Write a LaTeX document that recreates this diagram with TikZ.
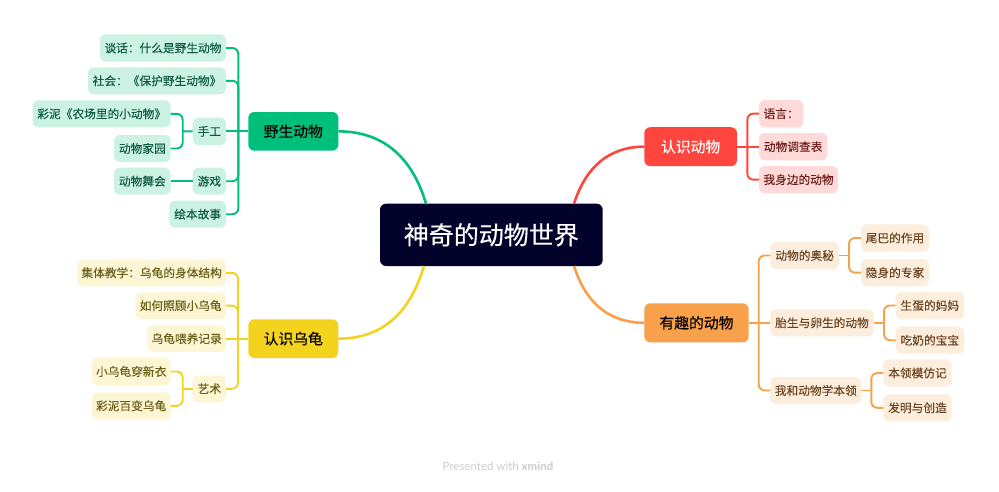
\documentclass[tikz,border=0pt]{standalone}
\usepackage{fontspec}
\setmainfont{Noto Sans CJK SC}
\newfontfamily\medfont[FakeBold=0.25]{Noto Sans CJK SC}
\newfontfamily\subfont[FakeBold=0.12]{Noto Sans CJK SC}
\newfontfamily\wmfont{Lato}
\definecolor{cdark}{HTML}{02022B}
\definecolor{gmain}{HTML}{00BF7A}
\definecolor{glite}{HTML}{CCF2E4}
\definecolor{gtext}{HTML}{0F5C43}
\definecolor{rmain}{HTML}{FF463E}
\definecolor{rlite}{HTML}{FFDAD8}
\definecolor{rtext}{HTML}{6E1F1C}
\definecolor{omain}{HTML}{F9A04B}
\definecolor{olite}{HTML}{FDEDDD}
\definecolor{otext}{HTML}{6B4420}
\definecolor{ymain}{HTML}{F4D31F}
\definecolor{ylite}{HTML}{FCF6D5}
\definecolor{ytext}{HTML}{6C6018}
\newcommand{\bx}[7]{%
  \pgfmathsetmacro\bxcx{(#3+#5)/2}%
  \pgfmathsetmacro\bxcy{(#4+#6)/2}%
  \pgfmathsetmacro\bxw{#5-#3}%
  \pgfmathsetmacro\bxh{#6-#4}%
  \node[#2,minimum width=\bxw pt,minimum height=\bxh pt] (#1) at (\bxcx,\bxcy) {\raisebox{-0.5pt}{#7}};}
\tikzset{
  boxbase/.style={inner sep=0pt,outer sep=0pt,rounded corners=6pt},
  central/.style={boxbase,fill=cdark,text=white,font=\medfont\fontsize{25}{28}\selectfont},
  gmainbox/.style={boxbase,fill=gmain,text=black,font=\medfont\fontsize{14.8}{18}\selectfont},
  rmainbox/.style={boxbase,fill=rmain,text=white,font=\medfont\fontsize{14.8}{18}\selectfont},
  omainbox/.style={boxbase,fill=omain,text=black,font=\medfont\fontsize{14.8}{18}\selectfont},
  ymainbox/.style={boxbase,fill=ymain,text=black,font=\medfont\fontsize{14.8}{18}\selectfont},
  gsub/.style={boxbase,fill=glite,text=gtext,font=\subfont\fontsize{11.7}{14}\selectfont},
  rsub/.style={boxbase,fill=rlite,text=rtext,font=\subfont\fontsize{11.7}{14}\selectfont},
  osub/.style={boxbase,fill=olite,text=otext,font=\subfont\fontsize{11.7}{14}\selectfont},
  ysub/.style={boxbase,fill=ylite,text=ytext,font=\subfont\fontsize{11.7}{14}\selectfont},
  trunk/.style={line width=2.6pt},
  gline/.style={draw=gmain,line width=1.9pt,rounded corners=6pt},
  rline/.style={draw=rmain,line width=1.9pt,rounded corners=6pt},
  oline/.style={draw=omain,line width=1.9pt,rounded corners=6pt},
  yline/.style={draw=ymain,line width=1.9pt,rounded corners=6pt},
}
\begin{document}
\begin{tikzpicture}[x=1pt,y=-1pt]
\useasboundingbox (0,0) rectangle (999,491);
\fill[white] (0,0) rectangle (999,491);
% central
\bx{c}{central}{380}{203.7}{602.7}{266}{神奇的动物世界}
% main
\bx{ye}{gmainbox}{248.3}{112}{338.3}{150.7}{野生动物}
\bx{wg}{ymainbox}{248.3}{319.3}{338.3}{358}{认识乌龟}
\bx{rs}{rmainbox}{644.3}{127.2}{737}{166.1}{认识动物}
\bx{yq}{omainbox}{644.3}{303.3}{748.7}{342.3}{有趣的动物}
% green subs
\bx{g1}{gsub}{100}{34.3}{226}{61.7}{谈话：什么是野生动物}
\bx{g2}{gsub}{88}{67.3}{226}{94.3}{社会：《保护野生动物》}
\bx{g3}{gsub}{32.7}{100.3}{170.7}{127.3}{彩泥《农场里的小动物》}
\bx{g4}{gsub}{192.7}{117.7}{226}{145}{手工}
\bx{g5}{gsub}{114}{135}{170.7}{162}{动物家园}
\bx{g6}{gsub}{114}{167.7}{170.7}{194.7}{动物舞会}
\bx{g7}{gsub}{192.7}{167.7}{226}{194.7}{游戏}
\bx{g8}{gsub}{169.3}{200.7}{226}{227.7}{绘本故事}
% yellow subs
\bx{y1}{ysub}{77.3}{259.3}{226}{286.3}{集体教学：乌龟的身体结构}
\bx{y2}{ysub}{135.3}{292.3}{226}{319}{如何照顾小乌龟}
\bx{y3}{ysub}{147.3}{325.3}{226}{352}{乌龟喂养记录}
\bx{y4}{ysub}{91.7}{358}{170.7}{385}{小乌龟穿新衣}
\bx{y5}{ysub}{91.7}{392.3}{170.7}{419.3}{彩泥百变乌龟}
\bx{y6}{ysub}{192.7}{375.3}{226}{402.3}{艺术}
% red subs
\bx{r1}{rsub}{759}{100}{803.3}{127.3}{语言：}
\bx{r2}{rsub}{759}{133}{827.3}{160.3}{动物调查表}
\bx{r3}{rsub}{759}{166}{838}{193.3}{我身边的动物}
% orange subs
\bx{o1}{osub}{770.3}{242}{839}{269}{动物的奥秘}
\bx{o2}{osub}{861}{224.3}{929}{251.7}{尾巴的作用}
\bx{o3}{osub}{861}{259}{929}{286.3}{隐身的专家}
\bx{o4}{osub}{770.3}{309.3}{873.7}{336.3}{胎生与卵生的动物}
\bx{o5}{osub}{895.7}{292}{964}{319}{生蛋的妈妈}
\bx{o6}{osub}{895.7}{326.7}{964}{353.7}{吃奶的宝宝}
\bx{o7}{osub}{770.3}{377}{861.3}{404}{我和动物学本领}
\bx{o8}{osub}{883.3}{359.3}{951.7}{386.7}{本领模仿记}
\bx{o9}{osub}{883.3}{394.3}{951.7}{421.3}{发明与创造}
% junction and edge coordinates
\coordinate (cg) at (426,203.7);
\coordinate (cy) at (424,266);
\coordinate (cr) at (574,203.7);
\coordinate (co) at (574,266);
\coordinate (gs) at (238.3,131.35);
\coordinate (gt) at (182.7,131.35);
\coordinate (ys) at (238,338.65);
\coordinate (yt) at (182.7,388.8);
\coordinate (rs0) at (747.3,146.65);
\coordinate (os) at (758.7,322.8);
\coordinate (ot1) at (849,255.5);
\coordinate (ot2) at (884,322.8);
\coordinate (ot3) at (871.3,390.5);
% trunks
\draw[gmain,trunk] (ye.east) .. controls (388,131.35) and (414,163) .. (cg);
\draw[ymain,trunk] (wg.east) .. controls (388,338.65) and (412,306) .. (cy);
\draw[rmain,trunk] (rs.west) .. controls (610,146.65) and (586,166) .. (cr);
\draw[omain,trunk] (yq.west) .. controls (610,322.8) and (586,304) .. (co);
% green
\draw[gline] (g1.east) -| (gs);
\draw[gline] (g2.east) -| (gs);
\draw[gline] (g4.east) -- (ye.west);
\draw[gline] (g7.east) -| (gs);
\draw[gline] (g8.east) -| (gs);
\draw[gline] (g4.west) -- (gt);
\draw[gline] (g3.east) -| (gt);
\draw[gline] (g5.east) -| (gt);
\draw[gline] (g7.west) -- (g6.east);
% yellow
\draw[yline] (y1.east) -| (ys);
\draw[yline] (y2.east) -| (ys);
\draw[yline] (y3.east) -- (wg.west);
\draw[yline] (y6.east) -| (ys);
\draw[yline] (y6.west) -- (yt);
\draw[yline] (y4.east) -| (yt);
\draw[yline] (y5.east) -| (yt);
% red
\draw[rline] (r1.west) -| (rs0);
\draw[rline] (r3.west) -| (rs0);
\draw[rline] (r2.west) -- (rs.east);
% orange
\draw[oline] (o1.west) -| (os);
\draw[oline] (o7.west) -| (os);
\draw[oline] (o4.west) -- (yq.east);
\draw[oline] (o1.east) -- (ot1);
\draw[oline] (o2.west) -| (ot1);
\draw[oline] (o3.west) -| (ot1);
\draw[oline] (o4.east) -- (ot2);
\draw[oline] (o5.west) -| (ot2);
\draw[oline] (o6.west) -| (ot2);
\draw[oline] (o7.east) -- (ot3);
\draw[oline] (o8.west) -| (ot3);
\draw[oline] (o9.west) -| (ot3);
% watermark
\node[text=black!20,font=\wmfont\fontsize{11.5}{13}\selectfont,inner sep=0pt] (wm) at (498,466.5) {Presented with \textbf{xmind}};
\end{tikzpicture}
\end{document}
